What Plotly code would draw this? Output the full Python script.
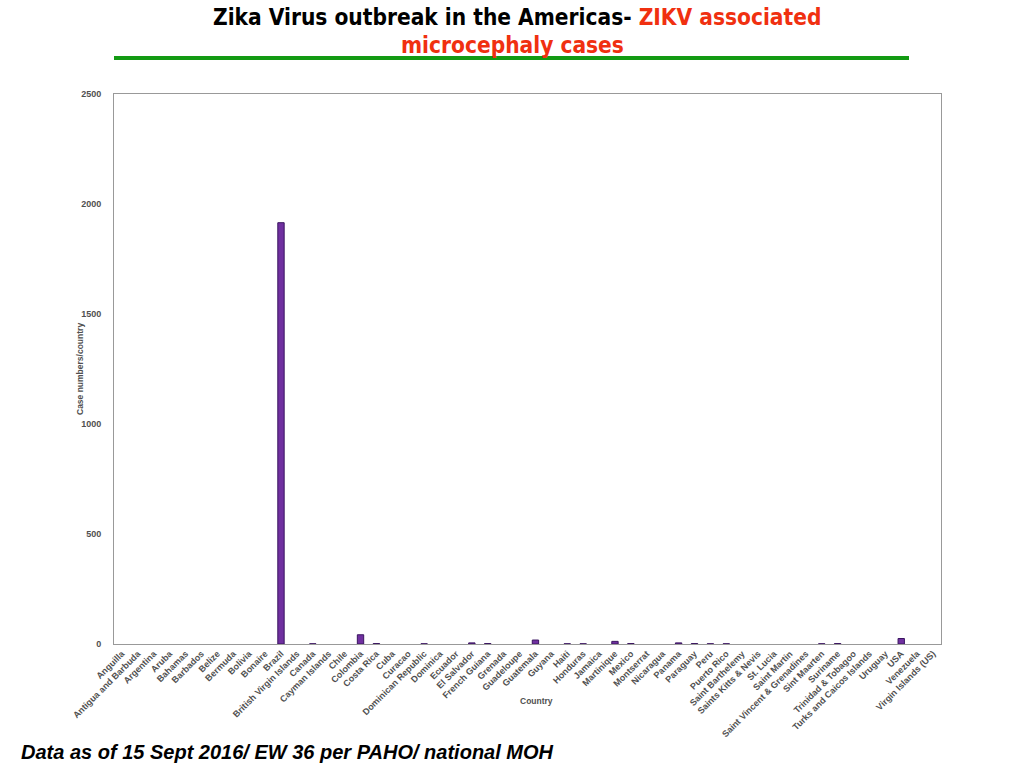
import plotly.graph_objects as go

countries = ["Anguilla", "Antigua and Barbuda", "Argentina", "Aruba", "Bahamas", "Barbados",
             "Belize", "Bermuda", "Bolivia", "Bonaire", "Brazil", "British Virgin Islands",
             "Canada", "Cayman Islands", "Chile", "Colombia", "Costa Rica", "Cuba", "Curacao",
             "Dominican Republic", "Dominica", "Ecuador", "El Salvador", "French Guiana",
             "Grenada", "Guadeloupe", "Guatemala", "Guyana", "Haiti", "Honduras", "Jamaica",
             "Martinique", "Mexico", "Montserrat", "Nicaragua", "Panama", "Paraguay", "Peru",
             "Puerto Rico", "Saint Barthelemy", "Saints Kitts & Nevis", "St. Lucia",
             "Saint Martin", "Saint Vincent & Grenadines", "Sint Maarten", "Suriname",
             "Trinidad & Tobagoo", "Turks and Caicos Islands", "Uruguay", "USA", "Venezuela",
             "Virgin Islands (US)"]

cases = [0, 0, 0, 0, 0, 0,
         0, 0, 0, 0, 1915, 0,
         1, 0, 0, 42, 2, 0, 0,
         1, 0, 0, 5, 2,
         0, 0, 18, 0, 1, 1, 0,
         12, 2, 0, 0, 5, 2, 1,
         1, 0, 0, 0,
         0, 0, 1, 2,
         0, 0, 0, 25, 0,
         0]

y_ticks = [0, 500, 1000, 1500, 2000, 2500]

L, R, T, B = 114, 941, 94, 644
W, H = 1024, 768
pw, ph = R - L, B - T

def px(x):
    return (x - L) / pw

def py(y):
    return (B - y) / ph

line_w = [1 if v > 0 else 0 for v in cases]

fig = go.Figure()
fig.add_trace(go.Bar(
    x=countries, y=cases, width=0.4,
    marker=dict(color="#7030A0", line=dict(color="#3a1560", width=line_w)),
))

tick_font = dict(family="Liberation Sans", size=9, color="#505050", weight="bold")
cond = "DejaVu Sans Condensed, Liberation Sans"

fig.update_layout(
    width=W, height=H,
    margin=dict(l=L, r=W - R, t=T, b=H - B, autoexpand=False),
    paper_bgcolor="white", plot_bgcolor="white",
    showlegend=False,
    xaxis=dict(
        type="category", tickangle=-45, tickfont=tick_font,
        showline=True, linecolor="#999999", linewidth=1, mirror=True,
        ticks="", showgrid=False, automargin=False,
    ),
    yaxis=dict(
        range=[0, 2500], tickvals=y_ticks, tickfont=tick_font,
        showline=True, linecolor="#999999", linewidth=1, mirror=True,
        ticks="", showgrid=False, zeroline=False, automargin=False,
        ticklabelstandoff=10,
    ),
    annotations=[
        dict(xref="paper", yref="paper", x=px(517), y=py(17), xanchor="center", yanchor="middle",
             showarrow=False,
             text="<b>Zika Virus outbreak in the Americas- <span style='color:#f03010'>ZIKV associated</span></b>",
             font=dict(family=cond, size=22.5, color="black")),
        dict(xref="paper", yref="paper", x=px(512), y=py(45), xanchor="center", yanchor="middle",
             showarrow=False,
             text="<b>microcephaly cases</b>",
             font=dict(family=cond, size=22.5, color="#f03010")),
        dict(xref="paper", yref="paper", x=px(536), y=py(701), xanchor="center", yanchor="middle",
             showarrow=False, text="<b>Country</b>",
             font=dict(family="Liberation Sans", size=8.5, color="#505050")),
        dict(xref="paper", yref="paper", x=px(80), y=py(369), xanchor="center", yanchor="middle",
             showarrow=False, text="<b>Case numbers/country</b>", textangle=-90,
             font=dict(family="Liberation Sans", size=8.5, color="#505050")),
        dict(xref="paper", yref="paper", x=px(19), y=py(752), xanchor="left", yanchor="middle",
             showarrow=False, text="<b><i>Data as of 15 Sept 2016/ EW 36 per PAHO/ national MOH</i></b>",
             font=dict(family="Liberation Sans", size=20, color="black")),
    ],
    shapes=[
        dict(type="line", xref="paper", yref="paper", x0=px(114), x1=px(909), y0=py(58), y1=py(58),
             line=dict(color="#139a13", width=4)),
    ],
)

fig.write_html("out.html", config={"displayModeBar": False},
               post_script="document.body.style.margin='0px';")
